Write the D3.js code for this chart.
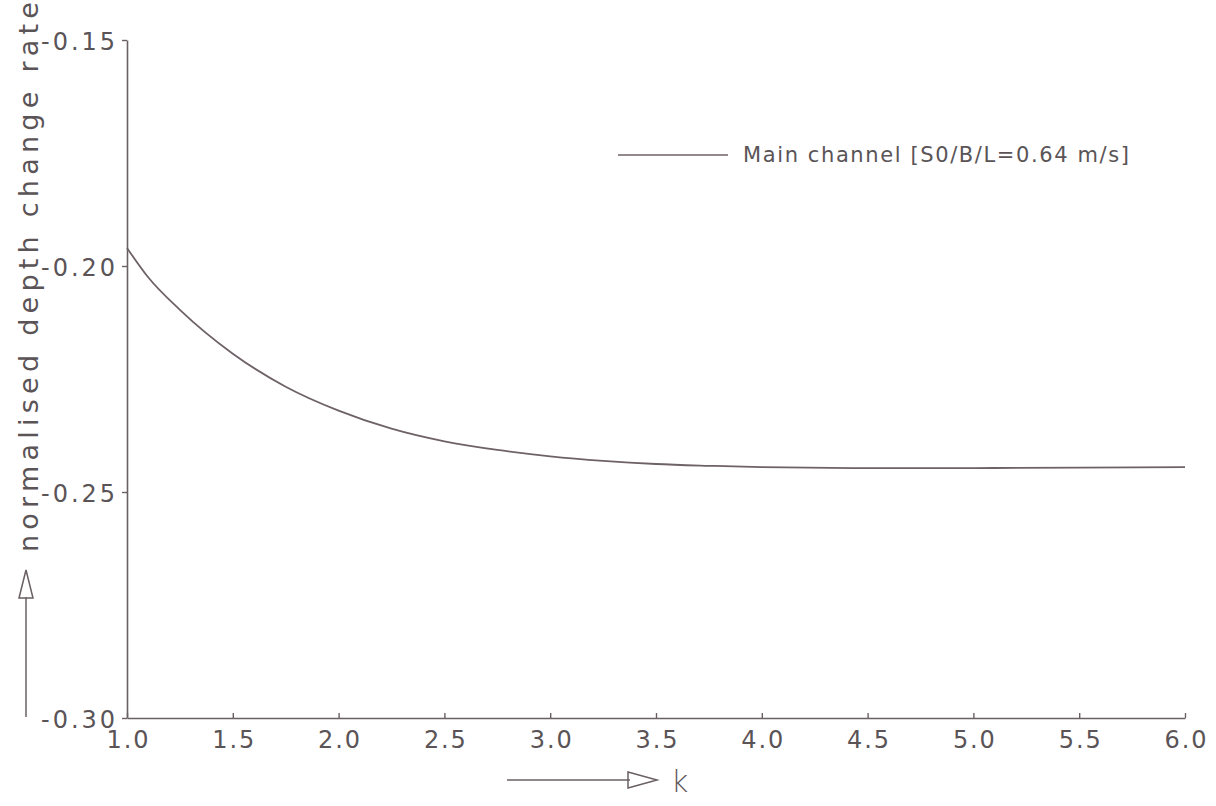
<!DOCTYPE html>
<html>
<head>
<meta charset="utf-8">
<script src="https://cdn.jsdelivr.net/npm/d3@7"></script>
<style>
  html, body { margin: 0; padding: 0; background: #ffffff; }
  svg text { font-family: "DejaVu Sans", "Liberation Sans", sans-serif; fill: #5a5457; }
</style>
</head>
<body>
<svg id="chart" width="1216" height="806"></svg>
<script>
// Normalised depth change rate of the main channel as a function of k
const kValues = [1.00, 1.10, 1.25, 1.50, 1.75, 2.00, 2.25, 2.50, 2.75, 3.00, 3.25, 3.50, 3.75, 4.00, 4.50, 5.00, 5.50, 6.00];
const rateValues = [-0.1960, -0.2025, -0.2097, -0.2194, -0.2267, -0.2320, -0.2360, -0.2388, -0.2407, -0.2421, -0.2431, -0.2438, -0.2442, -0.2445, -0.2447, -0.2447, -0.2446, -0.2445];

const xTicks = [1.0, 1.5, 2.0, 2.5, 3.0, 3.5, 4.0, 4.5, 5.0, 5.5, 6.0];
const yTicks = [-0.30, -0.25, -0.20, -0.15];

const legendLabel = "Main channel [S0/B/L=0.64 m/s]";
const xTitle = "k";
const yTitle = "normalised depth change rate";

const ink = "#6a6064";
const svg = d3.select("#chart");

const x = d3.scaleLinear().domain([1, 6]).range([127, 1185]);
const y = d3.scaleLinear().domain([-0.30, -0.15]).range([718, 40]);

// y axis
const yAxis = svg.append("g")
  .attr("transform", `translate(${x(1)},0)`)
  .call(d3.axisLeft(y).tickValues(yTicks).tickSize(5).tickSizeOuter(0)
    .tickFormat(d => d3.format(".2f")(d).replace("−", "-")));
yAxis.select(".domain").attr("stroke", ink).attr("stroke-width", 1.6);
yAxis.selectAll(".tick line").attr("stroke", ink).attr("stroke-width", 1.4);
yAxis.selectAll(".tick text")
  .attr("x", -12).attr("dy", "0.40em")
  .attr("font-size", 24)
  .attr("textLength", 74).attr("lengthAdjust", "spacing")
  .style("font-family", '"DejaVu Sans", sans-serif')
  .attr("fill", "#5a5457");

// x axis
const xAxis = svg.append("g")
  .attr("transform", `translate(0,${y(-0.30)})`)
  .call(d3.axisTop(x).tickValues(xTicks).tickSize(5).tickSizeOuter(0)
    .tickFormat(d3.format(".1f")));
xAxis.select(".domain").attr("stroke", ink).attr("stroke-width", 1.6);
xAxis.selectAll(".tick line").attr("stroke", ink).attr("stroke-width", 1.4);
xAxis.selectAll(".tick text")
  .attr("y", 30).attr("dy", 0)
  .attr("font-size", 24)
  .attr("textLength", 42).attr("lengthAdjust", "spacing")
  .style("font-family", '"DejaVu Sans", sans-serif')
  .attr("fill", "#5a5457");

// curve
const pts = kValues.map((k, i) => [k, rateValues[i]]);
const line = d3.line().x(d => x(d[0])).y(d => y(d[1])).curve(d3.curveMonotoneX);
svg.append("path")
  .datum(pts)
  .attr("d", line)
  .attr("fill", "none")
  .attr("stroke", "#6e6268")
  .attr("stroke-width", 1.8);

// legend
svg.append("line")
  .attr("x1", 618).attr("x2", 728).attr("y1", 155).attr("y2", 155)
  .attr("stroke", "#6e6268").attr("stroke-width", 1.6);
svg.append("text")
  .attr("x", 743).attr("y", 162)
  .attr("font-size", 21)
  .attr("textLength", 386).attr("lengthAdjust", "spacing")
  .text(legendLabel);

// x title with arrow
svg.append("line")
  .attr("x1", 507).attr("x2", 630).attr("y1", 780).attr("y2", 780)
  .attr("stroke", ink).attr("stroke-width", 1.5);
svg.append("path")
  .attr("d", "M628,772 L657,780 L628,788 Z")
  .attr("fill", "none").attr("stroke", ink).attr("stroke-width", 1.5);
svg.append("text")
  .attr("x", 671).attr("y", 792)
  .attr("font-size", 30)
  .attr("font-weight", 300)
  .text(xTitle);

// y title with arrow
svg.append("line")
  .attr("x1", 26).attr("x2", 26).attr("y1", 717).attr("y2", 597)
  .attr("stroke", ink).attr("stroke-width", 1.5);
svg.append("path")
  .attr("d", "M19,598 L26,570 L33,598 Z")
  .attr("fill", "none").attr("stroke", ink).attr("stroke-width", 1.5);
svg.append("text")
  .attr("transform", "translate(38,552) rotate(-90)")
  .attr("font-size", 27)
  .attr("textLength", 550).attr("lengthAdjust", "spacing")
  .text(yTitle);
</script>
</body>
</html>
